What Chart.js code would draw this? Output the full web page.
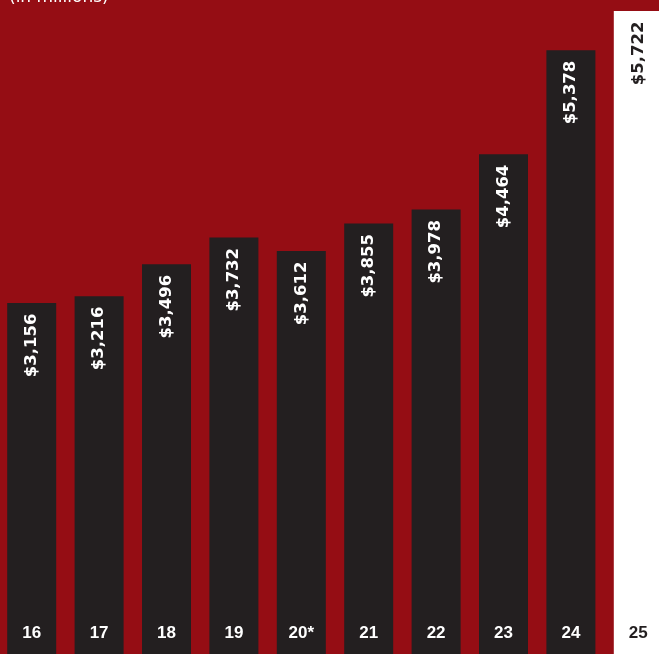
<!DOCTYPE html>
<html>
<head>
<meta charset="utf-8">
<script src="https://cdn.jsdelivr.net/npm/chart.js@4/dist/chart.umd.min.js"></script>
<style>
    html, body {
        margin: 0;
        padding: 0;
        width: 659px;
        height: 654px;
        overflow: hidden;
        background: #950d14;
    }
    #chart_container {
        position: absolute;
        left: -2px;
        top: 0;
    }
</style>
</head>
<body>
<div id="chart_container">
    <canvas id="revenue_chart" width="674" height="662"></canvas>
</div>
<script>
// fiscal years and revenue (in millions)
var years = ["16", "17", "18", "19", "20*", "21", "22", "23", "24", "25"];
var revenue = [3156, 3216, 3496, 3732, 3612, 3855, 3978, 4464, 5378, 5722];
var value_labels = ["$3,156", "$3,216", "$3,496", "$3,732", "$3,612", "$3,855", "$3,978", "$4,464", "$5,378", "$5,722"];
var unit_note = "(in millions)";

var background_red = "#950d14";
var bar_dark = "#231f20";
var bar_light = "#ffffff";

var bar_colors = years.map(function(year, i) {
    return i == years.length - 1 ? bar_light : bar_dark;
});
var text_colors = years.map(function(year, i) {
    return i == years.length - 1 ? bar_dark : "#ffffff";
});

var bar_text = {
    id: "bar_text",

    beforeDraw: function(chart) {
        var ctx = chart.ctx;
        ctx.save();
        ctx.fillStyle = background_red;
        ctx.fillRect(0, 0, chart.width, chart.height);
        ctx.restore();
    },

    afterDatasetsDraw: function(chart) {
        var ctx = chart.ctx;
        var x_scale = chart.scales.x;
        var bars = chart.getDatasetMeta(0).data;

        ctx.save();

        //value labels, rotated, just under the top of each bar
        ctx.font = "bold 16.5px 'DejaVu Sans'";
        ctx.textAlign = "right";
        ctx.textBaseline = "middle";
        for (var i = 0; i < bars.length; i++) {
            ctx.save();
            ctx.translate(bars[i].x, bars[i].y + 10.5);
            ctx.rotate(-Math.PI / 2);
            ctx.fillStyle = text_colors[i];
            ctx.fillText(value_labels[i], 0, 0);
            ctx.restore();
        }

        //year labels along the bottom
        ctx.font = "bold 17px 'Liberation Sans'";
        ctx.textAlign = "center";
        ctx.textBaseline = "middle";
        for (var j = 0; j < years.length; j++) {
            ctx.fillStyle = text_colors[j];
            ctx.fillText(years[j], x_scale.getPixelForValue(j), 633);
        }

        //unit note, top left
        ctx.font = "17px 'DejaVu Sans'";
        ctx.textAlign = "left";
        ctx.textBaseline = "alphabetic";
        ctx.fillStyle = "#ffffff";
        ctx.fillText(unit_note, 11, 2);

        ctx.restore();
    }
};

var revenue_chart = new Chart(document.getElementById("revenue_chart"), {
    type: "bar",
    data: {
        labels: years,
        datasets: [{
            data: revenue,
            backgroundColor: bar_colors,
            borderWidth: 0,
            barPercentage: 0.727,
            categoryPercentage: 1
        }]
    },
    options: {
        responsive: false,
        animation: false,
        layout: {
            padding: 0
        },
        plugins: {
            legend: { display: false },
            tooltip: { enabled: false }
        },
        scales: {
            x: {
                display: false
            },
            y: {
                display: false,
                min: 0,
                max: 5819
            }
        }
    },
    plugins: [bar_text]
});
</script>
</body>
</html>
